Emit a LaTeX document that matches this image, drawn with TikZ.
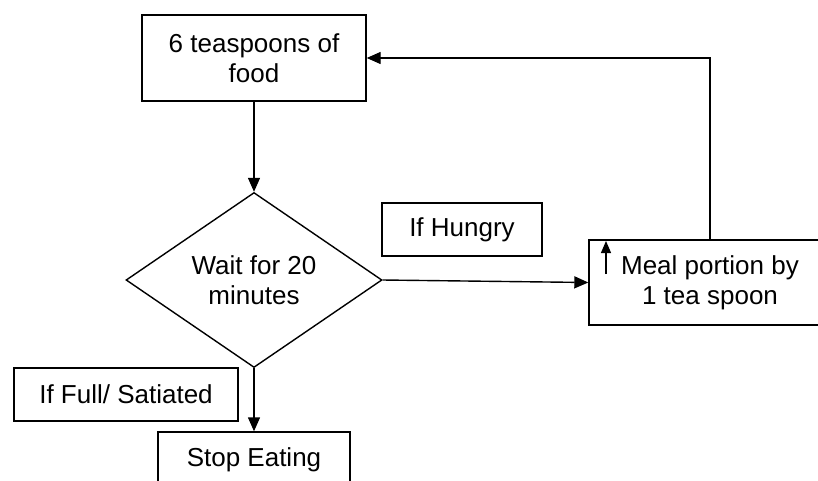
\documentclass[tikz,border=0pt]{standalone}
\usepackage{fontspec}
\setmainfont{Liberation Sans}
\usetikzlibrary{shapes.geometric,arrows.meta}
\begin{document}
\begin{tikzpicture}[x=1pt,y=-1pt,
  every node/.style={font=\fontsize{26}{30}\selectfont, align=center, inner sep=0pt},
  box/.style={draw, line width=1.4pt, rectangle},
  conn/.style={line width=1.4pt, -{Triangle[length=14pt,width=12pt]}},
  plain/.style={line width=1.4pt}]
\useasboundingbox (0,0) rectangle (818,480);
\clip (0,0) rectangle (818,480);
\fill[white] (0,0) rectangle (818,480);
\node[box, minimum width=224pt, minimum height=86pt] (food) at (254,58) {6 teaspoons of\\food};
\node[draw, diamond, line width=1.4pt, minimum width=256pt, minimum height=175pt] (wait) at (254,280) {Wait for 20\\minutes};
\node[box, minimum width=160pt, minimum height=53pt] (hungry) at (462,229.5) {If Hungry};
\node[box, minimum width=242pt, minimum height=85pt] (meal) at (710,282.5) {Meal portion by\\1 tea spoon};
\node[box, minimum width=224pt, minimum height=53pt] (full) at (126,394.5) {If Full/ Satiated};
\node[box, minimum width=192pt, minimum height=56pt] (stop) at (254,460) {Stop Eating};
\coordinate (up1) at (606,274);
\coordinate (up2) at (606,241);
\draw[conn] (food.south) -- (wait.north);
\draw[conn] (wait.east) -- (meal.west);
\draw[conn] (meal.north) |- (food.east);
\draw[conn] (wait.south) -- (stop.north);
\draw[line width=1.2pt, -{Triangle[length=12pt,width=10pt]}] (up1) -- (up2);
\end{tikzpicture}
\end{document}
